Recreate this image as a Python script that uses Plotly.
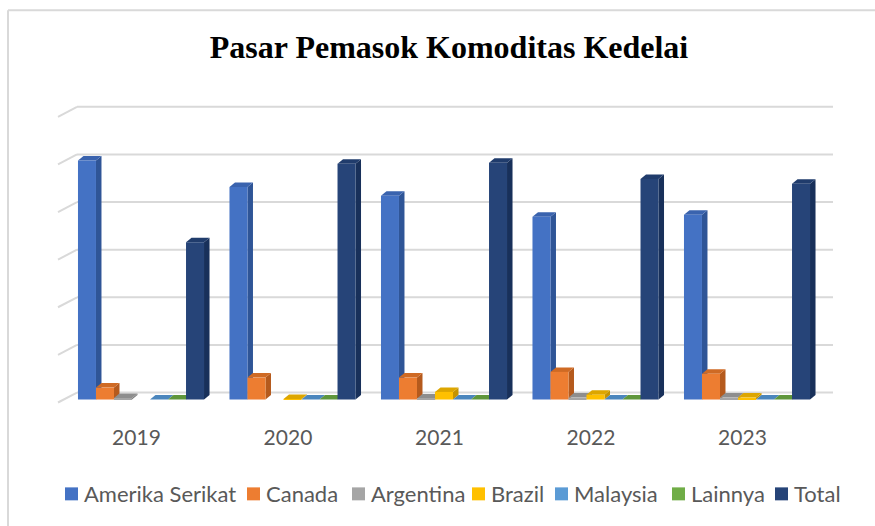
import plotly.graph_objects as go

# data (units = one gridline step, no axis labels in original)
years = ['2019', '2020', '2021', '2022', '2023']
amerika_serikat = [5.02, 4.46, 4.28, 3.84, 3.88]
canada = [0.25, 0.46, 0.46, 0.58, 0.54]
argentina = [0.03, None, 0.02, 0.04, 0.04]
brazil = [None, 0.01, 0.16, 0.10, 0.04]
malaysia = [0.0, 0.0, 0.0, 0.0, 0.0]
lainnya = [0.0, 0.0, 0.0, 0.0, 0.0]
total = [3.30, 4.95, 4.97, 4.63, 4.53]
grid_levels = [0, 1, 2, 3, 4, 5, 6]

series_names = ['Amerika Serikat', 'Canada', 'Argentina', 'Brazil', 'Malaysia', 'Lainnya', 'Total']
series_values = [amerika_serikat, canada, argentina, brazil, malaysia, lainnya, total]

# front / side / top colours (Excel office palette, 3D shading)
front_cols = ['#4472C4', '#ED7D31', '#A5A5A5', '#FFC000', '#5B9BD5', '#70AD47', '#264478']
side_cols = ['#2F5597', '#B55A1D', '#7F7F7F', '#C49300', '#41719C', '#507E32', '#18305A']
top_cols = ['#3A63AE', '#CF6A24', '#8E8E8E', '#DDA600', '#4B86BD', '#5F963B', '#203C6C']

W, H = 875, 526
# layout in pixels
plot_l, plot_r = 58, 833
plot_t, plot_b = 100, 409.5
px_per_unit = 47.7
y_lo = -(plot_b - 400) / px_per_unit          # front base (value 0) sits at 400px
y_hi = y_lo + (plot_b - plot_t) / px_per_unit
cat_px = 151.5
cat0_px = 141
x_lo = (plot_l - cat0_px) / cat_px
x_hi = (plot_r - cat0_px) / cat_px

group_w = 0.832
bar_w = group_w / len(series_names)
dx = 5.5 / cat_px          # depth of the 3D boxes
dy = 4.5 / px_per_unit
back_shift = 7 / px_per_unit   # back wall sits 7px above the front floor
wall_x0 = (77 - plot_l) / (plot_r - plot_l)


def px_to_paper_x(px):
    return (px - plot_l) / (plot_r - plot_l)


def px_to_paper_y(py):
    return (plot_b - py) / (plot_b - plot_t)


fig = go.Figure()

shapes = []
for i, (name, vals) in enumerate(zip(series_names, series_values)):
    off = -group_w / 2 + i * bar_w
    fig.add_trace(go.Bar(
        x=list(range(len(years))), y=vals, name=name,
        width=bar_w, offset=off, showlegend=False,
        marker=dict(color=front_cols[i], line_width=0),
    ))
    for c, v in enumerate(vals):
        if v is None:
            continue
        left = c + off
        right = left + bar_w
        # side face
        if v > 0:
            shapes.append(dict(
                type='path', xref='x', yref='y', layer='between',
                path=f'M{right},0 L{right},{v} L{right+dx},{v+dy} L{right+dx},{dy} Z',
                fillcolor=side_cols[i], line_width=0))
        # top face
        shapes.append(dict(
            type='path', xref='x', yref='y', layer='between',
            path=f'M{left},{v} L{right},{v} L{right+dx},{v+dy} L{left+dx},{v+dy} Z',
            fillcolor=top_cols[i], line_width=0))

# back wall gridlines + left wall diagonals
for k in grid_levels:
    shapes.append(dict(type='line', xref='paper', yref='y', layer='below',
                       x0=wall_x0, x1=1, y0=k + back_shift, y1=k + back_shift,
                       line=dict(color='#D9D9D9', width=2)))
    shapes.append(dict(type='line', xref='paper', yref='y', layer='below',
                       x0=0, x1=wall_x0, y0=k - 3 / px_per_unit, y1=k + back_shift,
                       line=dict(color='#D9D9D9', width=2)))

# thin frame of the chart (top and left edges)
shapes.append(dict(type='line', xref='paper', yref='paper',
                   x0=px_to_paper_x(8), x1=px_to_paper_x(W + 5),
                   y0=px_to_paper_y(10), y1=px_to_paper_y(10),
                   line=dict(color='#D9D9D9', width=2)))
shapes.append(dict(type='line', xref='paper', yref='paper',
                   x0=px_to_paper_x(8), x1=px_to_paper_x(8),
                   y0=px_to_paper_y(10), y1=px_to_paper_y(H + 5),
                   line=dict(color='#D9D9D9', width=2)))

# legend row drawn like Excel's (tight key/text spacing)
legend_key_px = [65, 247, 352, 472, 555, 672, 775]
annotations = []
for i, name in enumerate(series_names):
    kx = legend_key_px[i]
    shapes.append(dict(type='rect', xref='paper', yref='paper',
                       x0=px_to_paper_x(kx), x1=px_to_paper_x(kx + 13),
                       y0=px_to_paper_y(501), y1=px_to_paper_y(488),
                       fillcolor=front_cols[i], line_width=0))
    annotations.append(dict(text=name, xref='paper', yref='paper',
                            x=px_to_paper_x(kx + 17), y=px_to_paper_y(494),
                            xanchor='left', yanchor='middle', showarrow=False,
                            font=dict(family='Lato', size=22, color='#595959')))

fig.update_layout(
    width=W, height=H,
    margin=dict(l=plot_l, r=W - plot_r, t=plot_t, b=H - plot_b, pad=0),
    paper_bgcolor='white', plot_bgcolor='rgba(0,0,0,0)',
    barmode='overlay',
    title=dict(text='Pasar Pemasok Komoditas Kedelai',
               font=dict(family='Liberation Serif', size=32, color='black', weight='bold'),
               x=449 / W, xanchor='center', xref='container',
               y=1 - 47 / H, yanchor='middle', yref='container'),
    xaxis=dict(range=[x_lo, x_hi], tickmode='array',
               tickvals=[c - 0.03 for c in range(len(years))], ticktext=years,
               showgrid=False, zeroline=False, showline=False, ticks='',
               tickfont=dict(family='Lato', size=21, color='#595959'),
               ticklabelstandoff=14, fixedrange=True),
    yaxis=dict(range=[y_lo, y_hi], showgrid=False, zeroline=False,
               showticklabels=False, ticks='', fixedrange=True),
    shapes=shapes,
    annotations=annotations,
    showlegend=False,
)

fig.write_html('out.html', config={'displayModeBar': False},
               post_script="document.body.style.margin='0';")
